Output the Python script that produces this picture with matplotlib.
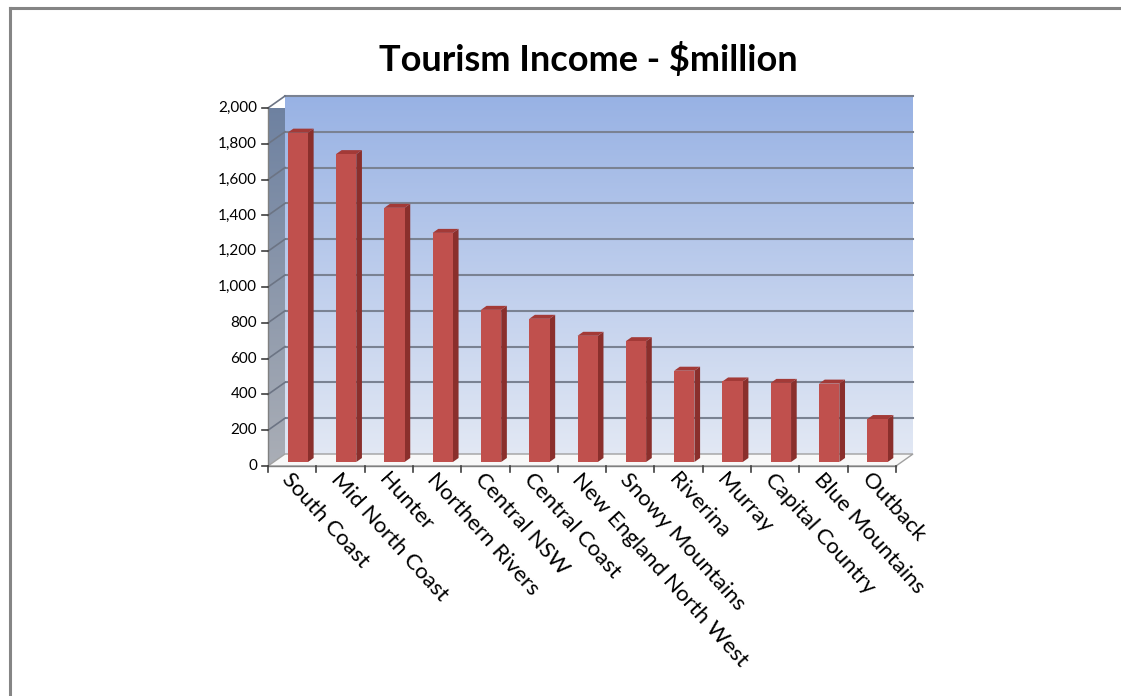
import numpy as np
import matplotlib
matplotlib.use("Agg")
import matplotlib.pyplot as plt
from matplotlib.patches import Polygon
from matplotlib.lines import Line2D

plt.rcParams['font.family'] = ['Lato', 'DejaVu Sans']

regions = ["South Coast", "Mid North Coast", "Hunter", "Northern Rivers",
           "Central NSW", "Central Coast", "New England North West",
           "Snowy Mountains", "Riverina", "Murray", "Capital Country",
           "Blue Mountains", "Outback"]
income = [1840, 1720, 1420, 1280, 850, 800, 705, 675, 510, 450, 442, 438, 240]
y_ticks = list(range(0, 2001, 200))
title = "Tourism Income - $million"

W, H, DPI = 1121, 696, 100
fig = plt.figure(figsize=(W / DPI, H / DPI), dpi=DPI)
ax_pos = [268 / W, 1 - 466 / H, 628 / W, 358 / H]
ax = fig.add_axes(ax_pos)
ax.set_axis_off()

n = len(regions)
x0, x1 = -0.5, n - 0.5
y0, y1 = 0, 2000

# depth of the 3d box in pixels, converted to data units
DEPTH_X_PX, DEPTH_Y_PX = 17, 12
kx = DEPTH_X_PX / (ax_pos[2] * W / n)
ky = DEPTH_Y_PX / (ax_pos[3] * H / (y1 - y0))


def proj(x, y, d):
    return (x + d * kx, y + d * ky)


def poly(pts, **kw):
    p = Polygon([proj(*p) for p in pts], closed=True, clip_on=False, **kw)
    ax.add_patch(p)
    return p


# back wall with vertical gradient
grad = np.linspace(0, 1, 256).reshape(-1, 1)
top_c = np.array([152, 178, 228]) / 255
bot_c = np.array([226, 232, 244]) / 255
img = top_c * (1 - grad[..., None]) + bot_c * grad[..., None]
bx0, by0 = proj(x0, y0, 1)
bx1, by1 = proj(x1, y1, 1)
ax.imshow(img, extent=(bx0, bx1, by0, by1), aspect='auto', origin='upper',
          clip_on=False, zorder=1, interpolation='bilinear')

# gridlines on back wall and side wall
for t in y_ticks[1:]:
    gx0, gy = proj(x0, t, 1)
    gx1, _ = proj(x1, t, 1)
    ax.plot([gx0, gx1], [gy, gy], color='#7a8292', lw=1.5, clip_on=False, zorder=2)

# side wall with gradient, clipped to its parallelogram
side_top = np.array([108, 128, 160]) / 255
side_bot = np.array([170, 174, 182]) / 255
simg = side_top * (1 - grad[..., None]) + side_bot * grad[..., None]
sx0, sy0 = proj(x0, y0, 0)
sx1, sy1 = proj(x0, y1, 1)
side_im = ax.imshow(simg, extent=(sx0, sx1, sy0, sy1), aspect='auto',
                    origin='upper', clip_on=True, zorder=3, interpolation='bilinear')
side_clip = poly([(x0, y0, 0), (x0, y0, 1), (x0, y1, 1), (x0, y1, 0)],
                 facecolor='none', edgecolor='none', zorder=3)
side_im.set_clip_path(side_clip)
for t in y_ticks[1:]:
    a = proj(x0, t, 0)
    b = proj(x0, t, 1)
    ax.plot([a[0], b[0]], [a[1], b[1]], color='#6c7484', lw=1.2, clip_on=False, zorder=4)

# floor
poly([(x0, y0, 0), (x1, y0, 0), (x1, y0, 1), (x0, y0, 1)],
     facecolor='#f8f8f8', edgecolor='#a0a0a0', lw=1.0, zorder=4)

# bars
bw = 0.21
d0, d1 = 1 / 3, 2 / 3
for i, v in enumerate(income):
    poly([(i + bw, 0, d0), (i + bw, 0, d1), (i + bw, v, d1), (i + bw, v, d0)],
         facecolor='#8a2f2c', edgecolor='none', zorder=5)
    poly([(i - bw, v, d0), (i + bw, v, d0), (i + bw, v, d1), (i - bw, v, d1)],
         facecolor='#a33a37', edgecolor='none', zorder=5)
    poly([(i - bw, 0, d0), (i + bw, 0, d0), (i + bw, v, d0), (i - bw, v, d0)],
         facecolor='#c0504d', edgecolor='none', zorder=6)

# axes lines and ticks
axis_c = '#808080'
ax.plot([x0, x0], [y0, y1], color=axis_c, lw=1.0, clip_on=False, zorder=7)
ax.plot([x0, x1], [y0, y0], color=axis_c, lw=1.0, clip_on=False, zorder=7)
tick_len_x = 6 / (ax_pos[2] * W / n)
tick_len_y = 6 / (ax_pos[3] * H / (y1 - y0))
for t in y_ticks:
    ax.plot([x0 - tick_len_x, x0], [t, t], color='#404040', lw=1.2, clip_on=False, zorder=7)
    ax.text(x0 - tick_len_x * 1.8, t, f"{t:,}", ha='right', va='center',
            fontsize=11, color='black')
for k in range(n + 1):
    ax.plot([x0 + k, x0 + k], [0, -tick_len_y], color='#404040', lw=1.2,
            clip_on=False, zorder=7)
for i, lab in enumerate(regions):
    ax.text(i + 0.02, -tick_len_y * 0.6, lab, rotation=-48, ha='left', va='top',
            rotation_mode='anchor', fontsize=16, color='black')

ax.set_xlim(x0, x1)
ax.set_ylim(y0, y1)

fig.text(588 / W, 1 - 60 / H, title, ha='center', va='center',
         fontsize=26, fontweight='bold', color='black')

# outer border on left and top
fig.add_artist(Line2D([9.5 / W, 9.5 / W], [0, 1 - 7.5 / H], color='#858585', lw=2.2))
fig.add_artist(Line2D([9.5 / W, 1], [1 - 7.5 / H, 1 - 7.5 / H], color='#858585', lw=2.2))

fig.savefig("out.png", dpi=DPI)
